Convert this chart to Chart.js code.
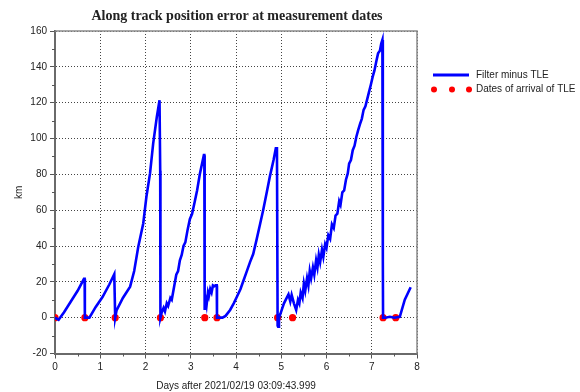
<!DOCTYPE html>
<html lang="en">
<head>
  <meta charset="UTF-8">
  <title>Along track position error</title>
  <script src="https://cdn.jsdelivr.net/npm/chart.js"></script>
  <style>
    body {
      margin: 0;
      padding: 0;
      background-color: white;
    }
    #wrap {
      width: 580px;
      height: 392px;
    }
  </style>
</head>
<body>
  <div id="wrap"><canvas id="chart" width="580" height="392"></canvas></div>

  <script>
    // filter minus TLE, days since epoch / km
    const filterDays = [
      0, 0.08, 0.2, 0.35, 0.5, 0.64, 0.655, 0.66,
      0.76, 0.9, 1.05, 1.2, 1.31, 1.325, 1.33,
      1.36, 1.5, 1.66, 1.75, 1.84, 1.95, 2.02, 2.10, 2.17, 2.25, 2.31, 2.32, 2.325, 2.33,
      2.36, 2.40, 2.43, 2.47, 2.50, 2.55, 2.58, 2.63, 2.68, 2.72, 2.76, 2.80, 2.84, 2.88,
      2.93, 2.98, 3.03, 3.09, 3.14, 3.20, 3.25, 3.29, 3.30, 3.305, 3.31,
      3.33, 3.35, 3.38, 3.40, 3.43, 3.46, 3.49, 3.52, 3.55, 3.575, 3.58,
      3.70, 3.77, 3.87, 3.95, 4.02, 4.10, 4.17, 4.24, 4.31, 4.38, 4.45, 4.53, 4.60, 4.68,
      4.75, 4.83, 4.88, 4.905, 4.92,
      4.93, 4.95, 4.98, 5.02, 5.06, 5.12, 5.16, 5.20, 5.23, 5.28, 5.33, 5.37, 5.40, 5.43,
      5.47, 5.50, 5.53, 5.57, 5.60, 5.63, 5.66, 5.70, 5.73, 5.77, 5.80, 5.83, 5.86, 5.90,
      5.93, 5.97, 6.00, 6.04, 6.08, 6.12, 6.16, 6.20, 6.24, 6.28, 6.31, 6.35, 6.39, 6.43,
      6.47, 6.50, 6.54, 6.58, 6.62, 6.66, 6.70, 6.74, 6.78, 6.82, 6.86, 6.90, 6.94, 6.98,
      7.02, 7.06, 7.10, 7.14, 7.18, 7.21, 7.235, 7.245, 7.25,
      7.30, 7.40, 7.50, 7.62, 7.73, 7.86
    ];
    const filterKm = [
      0, -1.2, 3, 9, 15, 21.7, 21.7, 0,
      0, 6, 11.5, 18.5, 24.3, 24.3, 0,
      4, 11, 17.3, 26, 39.6, 52.6, 67.5, 80.5, 97.3, 112, 121.4, 121.4, 82, 0,
      3, 5.5, 3.5, 8, 6.5, 11, 10, 17, 24, 26, 32, 35, 40, 42,
      49, 55, 58, 65, 71, 80, 86, 90.7, 90.7, 10, 4.3,
      10, 7, 14, 12, 16, 14, 18, 17.5, 18, 18, 0,
      0, 1, 4.3, 8, 11.7, 16, 21, 26, 31, 35.5, 43, 52, 60, 70,
      79, 88, 94.5, 94.5, -4.5,
      -5, 0, 2, 5, 8, 11, 13, 9, 12.7, 8, 4.3, 10, 8, 14,
      11, 19, 15, 22, 18, 26, 22, 28, 24, 32, 28, 35, 31, 38,
      34, 41, 39, 46, 44, 52, 50, 57, 58, 65, 63, 70, 71, 77,
      80.5, 86, 88, 93.5, 96, 101, 104.7, 108, 111, 116, 118, 122, 126, 130,
      134.4, 138, 143, 147.5, 149, 153, 155, 32, 0,
      0, 0.5, 0, 0.5, 10, 17
    ];

    // TLE arrival dates
    const tleDays = [0, 0.66, 1.33, 2.33, 3.31, 3.58, 4.92, 5.25, 7.25, 7.53];
    const tleKm = [0, 0, 0, 0, 0, 0, 0, 0, 0, 0];

    const xTicks = [0, 1, 2, 3, 4, 5, 6, 7, 8];
    const yTicks = [-20, 0, 20, 40, 60, 80, 100, 120, 140, 160];

    const titleText = 'Along track position error at measurement dates';
    const xTitle = 'Days after 2021/02/19 03:09:43.999';
    const yTitle = 'km';
    const legendLabels = ['Filter minus TLE', 'Dates of arrival of TLE'];

    const lineColor = '#0000ff';
    const dotColor = '#ff0000';
    const sansFont = '"Liberation Sans", Arial, sans-serif';

    const filterPoints = filterDays.map((d, i) => ({ x: d, y: filterKm[i] }));
    const tlePoints = tleDays.map((d, i) => ({ x: d, y: tleKm[i] }));

    // frame, minor ticks, titles and legend
    const decorations = {
      id: 'decorations',
      afterDraw(chart) {
        const ctx = chart.ctx;
        const a = chart.chartArea;
        const xs = chart.scales.x;
        const ys = chart.scales.y;
        ctx.save();

        ctx.strokeStyle = '#8a8a8a';
        ctx.lineWidth = 1.5;
        ctx.beginPath();
        ctx.moveTo(a.left, a.top);
        ctx.lineTo(a.right, a.top);
        ctx.lineTo(a.right, a.bottom);
        ctx.stroke();

        ctx.strokeStyle = '#555';
        ctx.lineWidth = 1;
        ctx.beginPath();
        for (let i = 0; i < xTicks.length - 1; i++) {
          const px = Math.round(xs.getPixelForValue((xTicks[i] + xTicks[i + 1]) / 2)) + 0.5;
          ctx.moveTo(px, a.bottom);
          ctx.lineTo(px, a.bottom + 3);
        }
        for (let i = 0; i < yTicks.length - 1; i++) {
          const py = Math.round(ys.getPixelForValue((yTicks[i] + yTicks[i + 1]) / 2)) + 0.5;
          ctx.moveTo(a.left - 3, py);
          ctx.lineTo(a.left, py);
        }
        ctx.stroke();

        ctx.fillStyle = '#222';
        ctx.textAlign = 'center';
        ctx.textBaseline = 'middle';
        ctx.font = 'bold 14px "Liberation Serif", "Times New Roman", serif';
        ctx.fillText(titleText, (a.left + a.right) / 2 + 1, 16);

        ctx.font = '10px ' + sansFont;
        ctx.fillText(xTitle, (a.left + a.right) / 2, 386);

        ctx.save();
        ctx.translate(19, (a.top + a.bottom) / 2);
        ctx.rotate(-Math.PI / 2);
        ctx.fillText(yTitle, 0, 0);
        ctx.restore();

        // legend
        ctx.strokeStyle = lineColor;
        ctx.lineWidth = 3;
        ctx.beginPath();
        ctx.moveTo(433, 75);
        ctx.lineTo(469, 75);
        ctx.stroke();

        ctx.fillStyle = dotColor;
        [434, 452, 469].forEach(px => {
          ctx.beginPath();
          ctx.arc(px, 89.5, 3, 0, Math.PI * 2);
          ctx.fill();
        });

        ctx.fillStyle = '#222';
        ctx.textAlign = 'left';
        ctx.fillText(legendLabels[0], 476, 75);
        ctx.fillText(legendLabels[1], 476, 89.5);

        ctx.restore();
      }
    };

    const chart = new Chart(document.getElementById('chart').getContext('2d'), {
      type: 'scatter',
      data: {
        datasets: [
          {
            label: legendLabels[0],
            data: filterPoints,
            showLine: true,
            borderColor: lineColor,
            borderWidth: 2.6,
            pointRadius: 0,
            tension: 0
          },
          {
            label: legendLabels[1],
            data: tlePoints,
            showLine: false,
            pointRadius: 3.6,
            pointBackgroundColor: dotColor,
            pointBorderWidth: 0
          }
        ]
      },
      options: {
        responsive: false,
        animation: false,
        layout: { padding: { left: 0, top: 31, right: 163, bottom: 0 } },
        plugins: {
          legend: { display: false },
          tooltip: { enabled: false }
        },
        scales: {
          x: {
            type: 'linear',
            min: 0,
            max: 8,
            afterFit: s => { s.height = 38.5; },
            afterBuildTicks: s => { s.ticks = xTicks.map(v => ({ value: v })); },
            ticks: {
              autoSkip: false,
              maxRotation: 0,
              padding: 3,
              color: '#222',
              font: { family: sansFont, size: 10 }
            },
            grid: {
              color: '#444',
              lineWidth: 1,
              tickColor: '#555',
              tickLength: 5
            },
            border: { color: '#6a6a6a', width: 2, dash: [1, 2] }
          },
          y: {
            min: -20,
            max: 160,
            afterFit: s => { s.width = 55; },
            afterBuildTicks: s => { s.ticks = yTicks.map(v => ({ value: v })); },
            ticks: {
              autoSkip: false,
              padding: 3,
              color: '#222',
              font: { family: sansFont, size: 10 }
            },
            grid: {
              color: '#444',
              lineWidth: 1,
              tickColor: '#555',
              tickLength: 5
            },
            border: { color: '#6a6a6a', width: 2, dash: [1, 2] }
          }
        }
      },
      plugins: [decorations]
    });
  </script>
</body>
</html>
